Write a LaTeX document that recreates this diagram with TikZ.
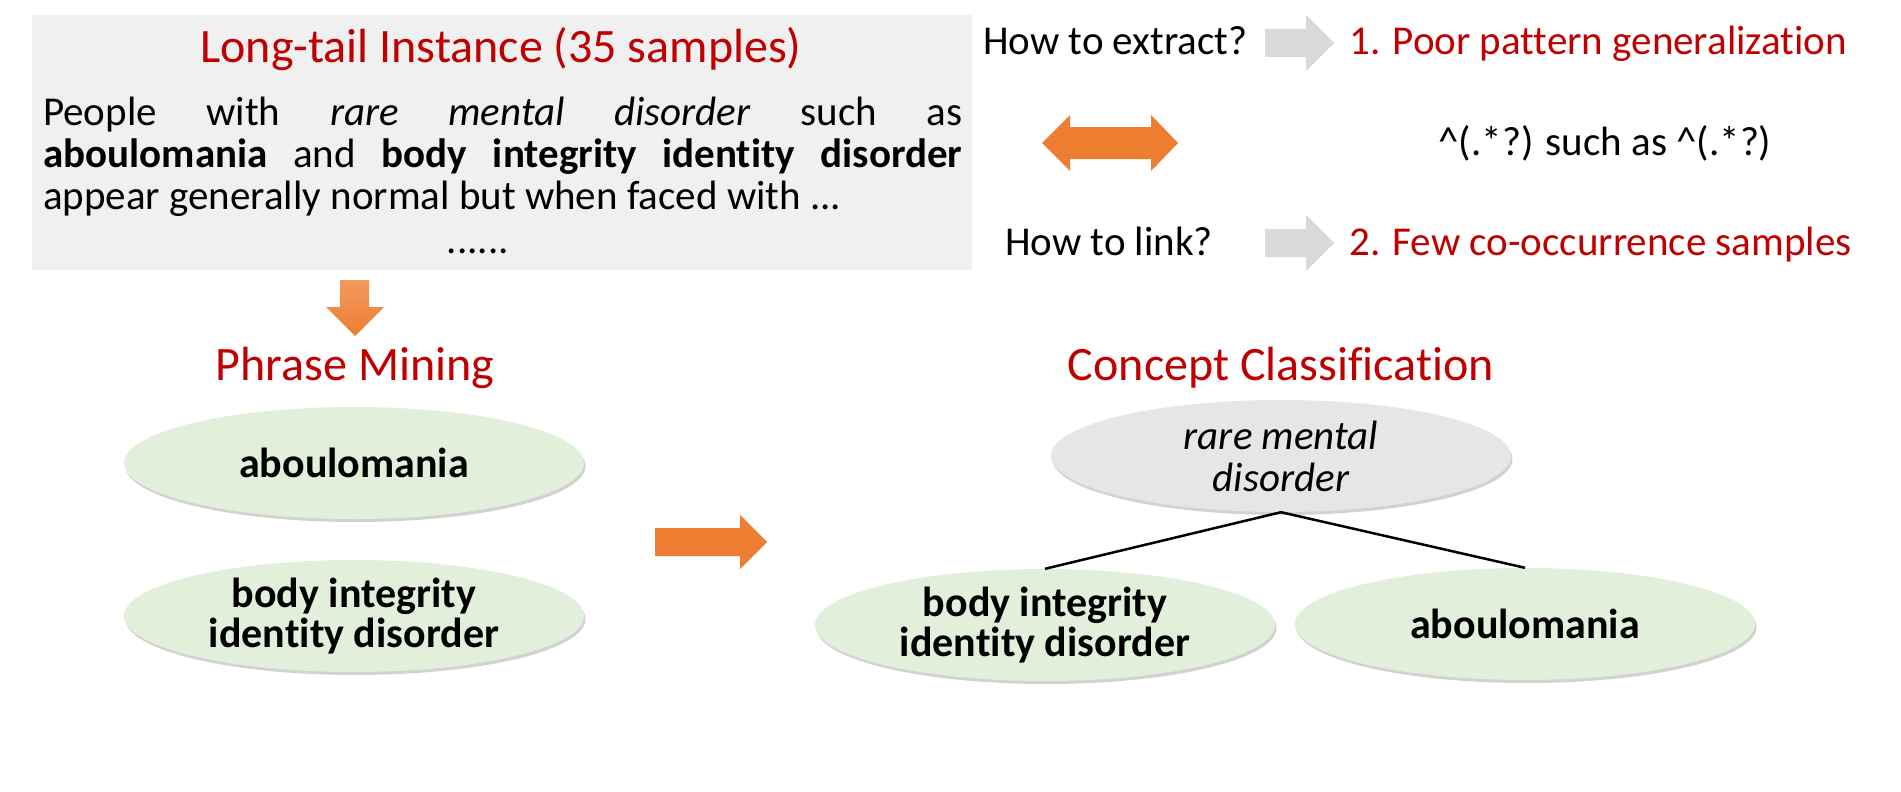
\documentclass[tikz,border=0pt]{standalone}
\usepackage{fontspec}
\setmainfont{Carlito}[Ligatures={NoCommon}]
\usetikzlibrary{shapes.geometric,shadows}
\definecolor{boxgray}{HTML}{F0F0F0}
\definecolor{arrowgray}{HTML}{D9D9D9}
\definecolor{orangeA}{HTML}{ED7D31}
\definecolor{orangeL}{HTML}{F29A5E}
\definecolor{darkred}{HTML}{C00000}
\definecolor{lightgreen}{HTML}{E2EFDA}
\definecolor{ellgray}{HTML}{E7E6E6}
\begin{document}
\begin{tikzpicture}[x=1pt,y=-1pt,
  bodytext/.style={inner sep=0pt, font=\fontsize{41}{42}\selectfont},
  heading/.style={inner sep=0pt, text=darkred, font=\fontsize{48}{50}\selectfont},
  ellbase/.style={ellipse, minimum width=460pt, minimum height=112pt, inner sep=0pt, align=center,
    drop shadow={shadow xshift=1.5pt, shadow yshift=-3pt, opacity=0.35, fill=black!50}},
  greenell/.style={ellbase, fill=lightgreen, font=\bfseries\fontsize{42}{40}\selectfont},
  grayell/.style={ellbase, fill=ellgray, font=\itshape\fontsize{41}{42}\selectfont},
  grayarrow/.style={fill=arrowgray},
  orangearrow/.style={fill=orangeA},
  treeline/.style={line width=2.5pt, black}
]
\useasboundingbox (0,0) rectangle (1901,792);
\fill[white] (0,0) rectangle (1901,792);

% top-left instance box
\node[fill=boxgray, minimum width=940pt, minimum height=255pt, anchor=north west, inner sep=0pt] (box) at (32,15) {};
\node[heading, anchor=base] (title) at (501,63) {Long-tail Instance (35 samples)};
\node[bodytext, text width=919pt, align=justify, anchor=base west] (para) at (43,125)
  {People with \textit{rare mental disorder} such as\linebreak \textbf{aboulomania} and \textbf{body integrity identity disorder}\linebreak appear generally normal but when faced with ...};
\node[bodytext, anchor=base] (dots) at (478,253) {......};

% right questions
\node[bodytext, anchor=base west] (q1) at (983,55) {How to extract?};
\node[bodytext, anchor=base west] (q2) at (1005,255) {How to link?};
\node[bodytext, text=darkred, anchor=base west] (a1) at (1349,55) {1. Poor pattern generalization};
\node[bodytext, text=darkred, anchor=base west] (a2) at (1349,255) {2. Few co-occurrence samples};
\node[bodytext, anchor=base] (pat) at (1605,155) {\textasciicircum(.*?) such as \textasciicircum(.*?)};

% gray block arrows
\fill[grayarrow] (1265,29) -- (1306,29) -- (1306,15) -- (1334,43) -- (1306,71) -- (1306,57) -- (1265,57) -- cycle;
\fill[grayarrow] (1265,229) -- (1306,229) -- (1306,215) -- (1334,243) -- (1306,271) -- (1306,257) -- (1265,257) -- cycle;

% orange double arrow
\fill[orangearrow] (1042,143) -- (1070,115) -- (1070,127) -- (1151,127) -- (1151,115) -- (1178,143)
  -- (1151,171) -- (1151,159) -- (1070,159) -- (1070,171) -- cycle;

% orange down arrow
\shade[top color=orangeL, bottom color=orangeA] (340,280) -- (369,280) -- (369,307) -- (384,307) -- (355,336) -- (326,307) -- (340,307) -- cycle;

% orange right arrow
\fill[orangearrow] (655,528) -- (740,528) -- (740,515) -- (767,542) -- (740,569) -- (740,556) -- (655,556) -- cycle;

% headings
\node[heading, anchor=base] (pm) at (355,380) {Phrase Mining};
\node[heading, anchor=base] (cc) at (1281,380) {Concept Classification};

% phrase mining ellipses
\node[greenell] (pm1) at (354,463) {aboulomania};
\node[greenell] (pm2) at (354,616) {body integrity\\identity disorder};

% concept classification tree
\node[grayell] (cct) at (1281,456) {rare mental\\disorder};
\node[greenell] (ccl) at (1045,625) {body integrity\\identity disorder};
\node[greenell] (ccr) at (1525,624) {aboulomania};
\draw[treeline] (cct.south) -- (ccl.north);
\draw[treeline] (cct.south) -- (ccr.north);
\end{tikzpicture}
\end{document}
